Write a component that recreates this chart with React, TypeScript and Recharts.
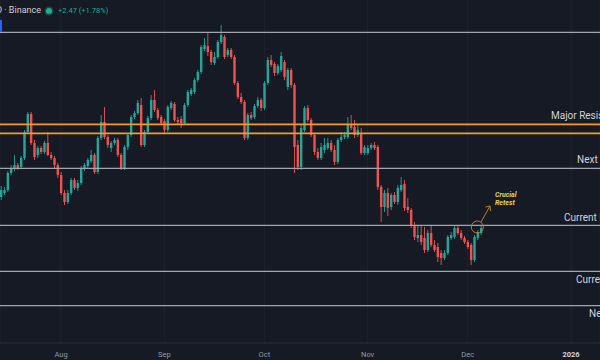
import React from "react";
import { ComposedChart, Bar, XAxis, YAxis, CartesianGrid, ReferenceLine, ReferenceDot } from "recharts";

const UP = "#26a69a";
const DOWN = "#ef5350";
const BG = "#161a25";

// daily candles, day 0 = 14 Jul
const opens = [
  151.5, 153.5, 155, 163.5, 165.5, 167.5, 166.5, 171, 184, 193,
  178.5, 172.5, 176, 174, 178.5, 172.5, 171, 167.5, 162.5, 153.5,
  149, 153.5, 160, 156, 158.5, 165.5, 167, 169.5, 172.5, 164,
  181, 189, 181.5, 176, 178.5, 180, 172.5, 166, 176.5, 182.5,
  191.5, 193.5, 197.5, 177.5, 184, 191, 200, 195, 191.5, 189.5,
  185, 196, 198, 190, 190.5, 188.5, 197.5, 203, 204, 210,
  214, 225.5, 227, 224, 218.5, 221.5, 229, 231.5, 222.5, 225,
  221.5, 208.5, 201.5, 199, 181, 192.5, 191.5, 197, 200, 196,
  208.5, 220, 218, 213.5, 215, 219, 206.5, 215, 207.5, 177.5,
  166.5, 185, 196, 190, 182.5, 174, 171, 175, 176, 178.5,
  175, 169, 180, 181.5, 181.5, 187.5, 186.5, 182.5, 183.5, 173.5,
  173.5, 176, 177.5, 176.5, 156.5, 146.5, 153.5, 146.5, 152.5, 149,
  155, 158, 146.5, 145, 137.5, 131, 132.5, 131, 125, 133.5,
  127.5, 126.5, 123.5, 121, 123.5, 131, 131.5, 136, 133.5, 131,
  129, 127.5, 120, 131, 133.5,
];
const highs = [
  157, 156.5, 164.5, 167.5, 172.5, 168.5, 172, 185, 194, 194,
  180, 177, 177, 179.5, 184, 174, 172, 168.5, 164, 155,
  155, 161, 161, 160, 167, 168.5, 171, 175, 173.5, 182,
  192.5, 196.5, 182.5, 179.5, 181, 181, 173.5, 177.5, 183.5, 192.5,
  194.5, 200, 201, 185, 192, 202.5, 205, 196, 192.5, 190.5,
  197.5, 199.5, 199, 191.5, 192, 198.5, 205, 206, 211, 215,
  227.5, 231, 233.5, 225, 224, 230, 237.5, 232.5, 226, 226,
  222.5, 209.5, 203.5, 200, 193.5, 194, 198, 201.5, 201, 209.5,
  221.5, 222.5, 219, 218, 224, 220, 216, 216, 208.5, 180,
  187.5, 197, 197.5, 191, 183.5, 176, 178.5, 181, 181, 180,
  177.5, 181, 184, 184, 191.5, 192.5, 190, 187.5, 186, 177.5,
  177.5, 178.5, 179, 177.5, 157.5, 155, 156, 153.5, 154, 157.5,
  161.5, 160, 151, 146, 139, 137.5, 137, 136.5, 135, 137.5,
  130, 128.5, 125, 125, 132.5, 134, 137, 137, 135, 132,
  130, 128.5, 132.5, 135, 137.5,
];
const lows = [
  150, 152.5, 154, 162.5, 164.5, 165, 165.5, 170, 183, 177.5,
  170, 171, 173, 173, 172, 170, 166, 161, 152.5, 147.5,
  148, 152.5, 155, 154.5, 157.5, 164.5, 166, 168.5, 163, 163,
  180, 180.5, 176, 174, 177.5, 171.5, 165, 165, 175, 181.5,
  190.5, 192.5, 176.5, 176.5, 183, 190, 194, 190, 187.5, 183.5,
  184, 195, 189, 188, 186, 187.5, 196.5, 202, 203, 209,
  213, 224.5, 222, 217.5, 217.5, 220.5, 228, 220.5, 221.5, 220.5,
  207.5, 200.5, 198, 180, 180, 190, 190.5, 196, 194.5, 195,
  207.5, 216.5, 212, 212.5, 214, 210, 205, 206, 163.5, 165,
  165, 184, 189, 181.5, 172.5, 170, 170, 173.5, 175, 174,
  167.5, 168, 179, 180.5, 180.5, 185, 181, 181.5, 172.5, 172.5,
  172.5, 175, 175, 155, 139, 144, 142, 145, 148, 147.5,
  154, 144.5, 143.5, 136, 130, 129, 127.5, 123.5, 124, 126.5,
  124, 119, 117.5, 120, 122.5, 130, 130.5, 132.5, 130, 128,
  125.5, 117.5, 119, 130, 132.5,
];
const closes = [
  155, 155, 163.5, 166, 167.5, 166, 171, 184, 193, 178.5,
  171.5, 176, 174, 178.5, 172.5, 171, 167.5, 162.5, 153.5, 149,
  153.5, 160, 156, 158.5, 166, 167.5, 170, 172.5, 164, 181,
  189, 181.5, 177.5, 178.5, 180, 172.5, 166, 176.5, 182.5, 191.5,
  193.5, 198.5, 177.5, 184, 191, 200, 195, 191, 188.5, 185,
  196.5, 198.5, 190, 189, 188.5, 197.5, 204, 205, 210, 214,
  226.5, 227.5, 224, 219, 221.5, 229, 232.5, 221.5, 225, 221.5,
  208.5, 201.5, 199, 181, 192.5, 191, 197, 200, 196, 208.5,
  220, 217.5, 213.5, 217, 222, 211.5, 215, 207.5, 176.5, 166.5,
  186, 196, 190, 182.5, 174, 171, 176.5, 177.5, 178.5, 175,
  169, 180, 181.5, 182.5, 187.5, 186, 182.5, 185, 173.5, 176.5,
  176, 177.5, 176, 156.5, 146.5, 153.5, 146, 152.5, 149, 156,
  157.5, 146, 145, 137.5, 131.5, 132.5, 129, 125, 133.5, 127.5,
  125, 121.5, 121, 123.5, 131.5, 132.5, 136, 133.5, 131, 129,
  126.5, 120, 131.5, 134, 136,
];

const monthTicks = [18, 49, 79, 110, 140, 171];
const monthLabels = ["Aug", "Sep", "Oct", "Nov", "Dec", "2026"];

const levelValues = [233.8, 187.8, 183.3, 165.8, 137.3, 114.3, 97.2];
const levelNames = ["", "Major Resistance", "", "Next Resistance", "Current Resistance", "Current Support", "Next Support"];

const rows = closes.map((c, i) => ({ i, o: opens[i], h: highs[i], l: lows[i], c }));

function Candle(props: any) {
  const { x, y, width, height, payload } = props;
  if (!payload) return null;
  const { o, h, l, c } = payload;
  const color = c >= o ? UP : DOWN;
  const top0 = Math.min(y, y + height);
  const hh = Math.abs(height);
  const span = h - l || 1;
  const py = (v: number) => top0 + ((h - v) / span) * hh;
  const cx = x + width / 2;
  const bt = py(Math.max(o, c));
  const bb = py(Math.min(o, c));
  const bw = 2.4;
  return (
    <g>
      <line x1={cx} x2={cx} y1={top0} y2={top0 + hh} stroke={color} strokeWidth={0.9} />
      <rect x={cx - bw / 2} y={bt} width={bw} height={Math.max(bb - bt, 1)} fill={color} />
    </g>
  );
}

function LevelLabel({ viewBox, text, x0, dy }: any) {
  if (!viewBox || !text) return null;
  return (
    <text x={x0} y={viewBox.y + dy} fill="#d1d4dc" fontSize={10} fontFamily="Roboto, sans-serif">
      {text}
    </text>
  );
}

function MonthTick({ x, y, payload }: any) {
  const idx = monthTicks.indexOf(payload.value);
  const isYear = idx === monthTicks.length - 1;
  return (
    <text x={x} y={y + 6} textAnchor="middle" fontSize={7.5} fontFamily="Roboto, sans-serif"
      fill={isYear ? "#d1d4dc" : "#9598a1"} fontWeight={isYear ? 700 : 400}>
      {monthLabels[idx]}
    </text>
  );
}

function NoteText(props: any) {
  const { cx, cy } = props;
  return (
    <g fontFamily="Roboto, sans-serif" fontSize={7} fontStyle="italic" fontWeight={700} fill="#e8d44d">
      <text x={cx} y={cy - 1.5}>Crucial</text>
      <text x={cx} y={cy + 6.5}>Retest</text>
    </g>
  );
}

const labelStyle = [
  { x0: 0, dy: 0 },
  { x0: 551, dy: -5 },
  { x0: 0, dy: 0 },
  { x0: 577, dy: -5 },
  { x0: 564, dy: -4.5 },
  { x0: 576, dy: 11.5 },
  { x0: 589, dy: 11 },
];
const levelColor = ["#a3a6af", "#f39c2b", "#f39c2b", "#a3a6af", "#a3a6af", "#a3a6af", "#a3a6af"];

export default function App() {
  return (
    <div style={{ position: "fixed", left: 0, top: 0, width: 600, height: 360, background: BG, overflow: "hidden" }}>
      <ComposedChart width={600} height={360} data={rows} margin={{ top: 0, right: 0, bottom: 0, left: 0 }}>
        <CartesianGrid horizontal={false} stroke="#1e222d" />
        <XAxis dataKey="i" type="number" domain={[-0.3, 179.7]} ticks={monthTicks} interval={0}
          tick={<MonthTick />} tickLine={false} axisLine={{ stroke: "#2a2e39" }} height={17} allowDataOverflow />
        <YAxis hide domain={[78.5, 250]} allowDataOverflow />
        <Bar dataKey={(d: any) => [d.l, d.h]} shape={<Candle />} isAnimationActive={false} />
        {levelValues.map((v, k) => (
          <ReferenceLine key={k} y={v} stroke={levelColor[k]} strokeWidth={k === 1 || k === 2 ? 1.6 : 1.2}
            label={<LevelLabel text={levelNames[k]} x0={labelStyle[k].x0} dy={labelStyle[k].dy} />} />
        ))}
        <ReferenceDot x={142.9} y={136.5} r={6} fill="none" stroke="#b5822f" strokeWidth={1} />
        <ReferenceLine segment={[{ x: 144.0, y: 139 }, { x: 146.7, y: 147 }]} stroke="#b5822f" strokeWidth={1} />
        <ReferenceLine segment={[{ x: 146.7, y: 147 }, { x: 145.35, y: 146.5 }]} stroke="#b5822f" strokeWidth={1} />
        <ReferenceLine segment={[{ x: 146.7, y: 147 }, { x: 146.85, y: 144.5 }]} stroke="#b5822f" strokeWidth={1} />
        <ReferenceDot x={148.2} y={151} r={0} shape={<NoteText />} />
      </ComposedChart>
      <div style={{ position: "absolute", left: 0, top: 4, width: 41, overflow: "hidden", display: "flex", justifyContent: "flex-end" }}>
        <span style={{ whiteSpace: "nowrap", color: "#d1d4dc", fontSize: 9, fontFamily: "Roboto, sans-serif", lineHeight: "13px" }}>
          SOLUSDT · 1D · Binance
        </span>
      </div>
      <div style={{ position: "absolute", left: 46, top: 7.5, width: 6, height: 6, borderRadius: 3, background: "#22ab94", boxShadow: "0 0 0 1.5px rgba(34,171,148,0.3)" }} />
      <div style={{ position: "absolute", left: 58, top: 5, color: "#22ab94", fontSize: 7.5, fontFamily: "Roboto, sans-serif", lineHeight: "11px", whiteSpace: "nowrap" }}>
        +2.47 (+1.78%)
      </div>
      <div style={{ position: "absolute", left: 0, top: 20, width: 2, height: 12, background: "#2962ff" }} />
    </div>
  );
}
